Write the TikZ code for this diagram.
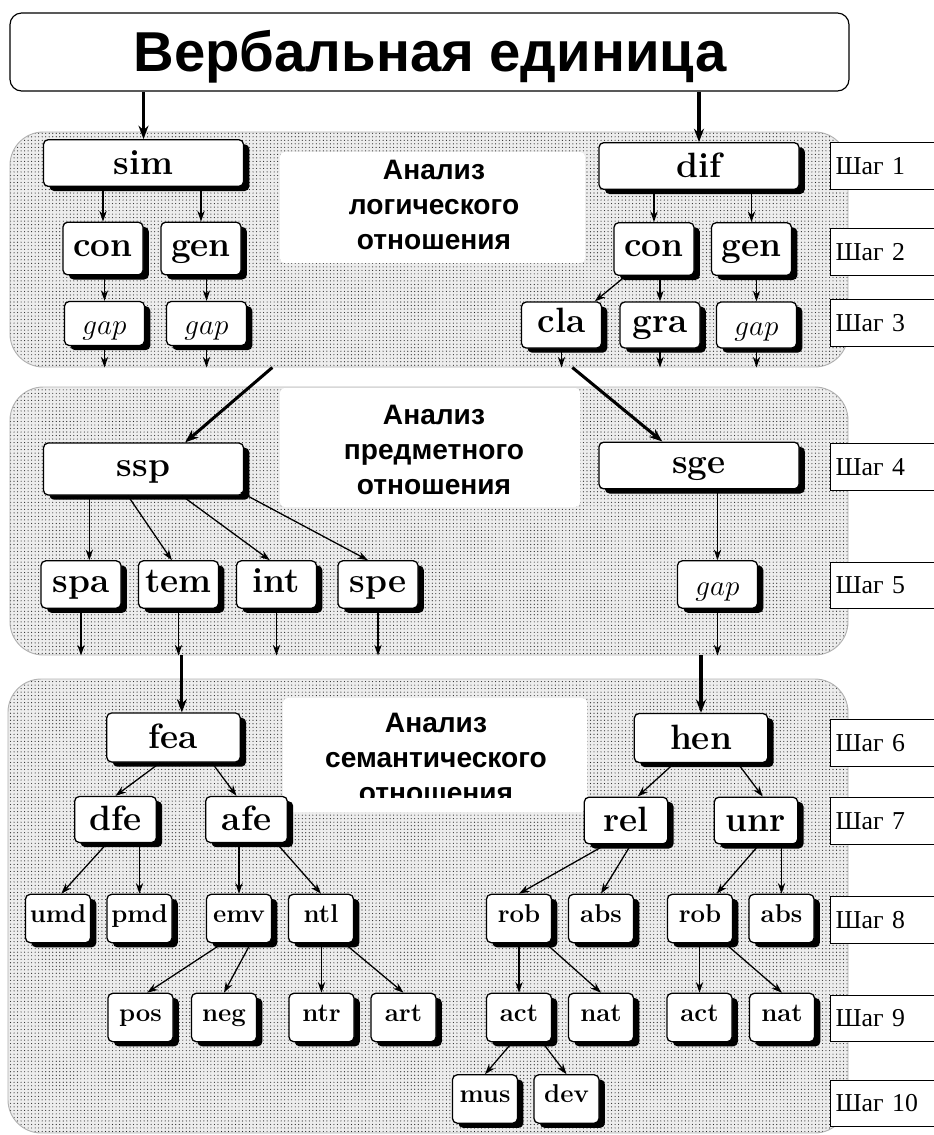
\documentclass[tikz,border=0pt]{standalone}
\usepackage{fontspec}
\newfontfamily\headfont{Liberation Sans}
\newfontfamily\stepfont{Liberation Serif}
\usepackage{tikz}
\usetikzlibrary{arrows.meta,shadows,patterns,positioning,calc}

\tikzset{
  panel/.style={draw=gray!60, line width=0.8pt, rounded corners=1cm, preaction={fill=gray!14},
    pattern=dots, pattern color=black!85, inner sep=0pt},
  blank/.style={fill=white, rounded corners=4pt, inner sep=0pt},
  box/.style={draw, line width=1.1pt, rounded corners=4pt, fill=white, inner sep=0pt,
    text height=13pt, text depth=0pt,
    drop shadow={shadow xshift=5pt, shadow yshift=-4pt, opacity=1, fill=black},
    font=\bfseries\fontsize{30}{32}\selectfont},
  low/.style={text height=19pt},
  wide/.style={box, minimum width=6cm, minimum height=1.4cm},
  mid/.style={box, low, minimum width=4cm, minimum height=1.47cm},
  unit/.style={box, minimum width=2.4cm, minimum height=1.45cm},
  small/.style={box, minimum width=1.95cm, minimum height=1.45cm, text height=6pt,
    font=\bfseries\fontsize{22}{24}\selectfont},
  italic/.style={font=\fontsize{30}{32}\selectfont, text height=18pt, text depth=0pt},
  headline/.style={align=center, font=\headfont\bfseries\fontsize{24}{30}\selectfont},
  steplab/.style={draw, line width=1pt, fill=white, anchor=west, minimum width=4cm, minimum height=1.4cm,
    text width=3.7cm, align=left, inner xsep=3pt, font=\stepfont\fontsize{22}{24}\selectfont},
  arr/.style={-{Stealth[length=3.2mm,width=2.2mm]}, line width=1.1pt},
  link/.style={-{Stealth[length=4mm,width=3mm]}, line width=2.6pt}
}

\begin{document}
\begin{tikzpicture}[x=0.03cm, y=-0.03cm]
    \useasboundingbox (0,0) rectangle (934,1135);

    % Title
    \node[draw, line width=1pt, rounded corners=10pt, minimum width=25.17cm, minimum height=2.34cm] (title) at (429.5,52) {};
    \node[font=\headfont\bfseries\fontsize{48}{50}\selectfont] (name) at (430,57) {Вербальная единица};

    % Panels
    \node[panel, minimum width=25.14cm, minimum height=7.05cm] (lay1) at (429,249.5) {};
    \node[panel, minimum width=25.14cm, minimum height=8.04cm] (lay2) at (429,521) {};
    \node[panel, minimum width=25.2cm, minimum height=13.62cm] (lay3) at (428,906) {};

    \node[blank, minimum width=9.15cm, minimum height=3.33cm] (void1) at (432.5,207.5) {};
    \node[blank, minimum width=9cm, minimum height=3.57cm] (void2) at (430,447.5) {};
    \node[blank, minimum width=9.12cm, minimum height=3.42cm] (void3) at (435,755) {};

    \node[headline] (head1) at (434,205) {Анализ\\логического\\отношения};
    \node[headline] (head2) at (434,450) {Анализ\\предметного\\отношения};
    \begin{scope}
      \clip (283,698) rectangle (587,797);
      \node[headline] (head3) at (436,758) {Анализ\\семантического\\отношения};
    \end{scope}

    % Step labels
    \node[steplab] (st1) at (830,166) {Шаг 1};
    \node[steplab] (st2) at (830,252) {Шаг 2};
    \node[steplab] (st3) at (830,323) {Шаг 3};
    \node[steplab] (st4) at (830,467) {Шаг 4};
    \node[steplab] (st5) at (830,585.5) {Шаг 5};
    \node[steplab] (st6) at (830,743) {Шаг 6};
    \node[steplab] (st7) at (830,821) {Шаг 7};
    \node[steplab] (st8) at (830,920) {Шаг 8};
    \node[steplab] (st9) at (830,1018.5) {Шаг 9};
    \node[steplab] (st10) at (830,1103.5) {Шаг 10};

    % Logical relation
    \node[wide, low] (sim) at (143.5,163) {sim};
    \node[wide, low] (dif) at (699,166) {dif};
    \node[unit, minimum height=1.58cm] (conA) at (103,248.5) {con};
    \node[unit, minimum height=1.58cm] (genA) at (201,248.5) {gen};
    \node[unit, minimum height=1.58cm] (conB) at (654,249) {con};
    \node[unit, minimum height=1.58cm] (genB) at (751.5,249) {gen};
    \node[unit, italic, minimum height=1.32cm] (gapA) at (104.5,323.5) {$gap$};
    \node[unit, italic, minimum height=1.32cm] (gapB) at (206.5,323.5) {$gap$};
    \node[unit, minimum height=1.38cm] (cla) at (561.5,325) {cla};
    \node[unit, minimum height=1.38cm] (gra) at (660,325) {gra};
    \node[unit, italic, minimum height=1.38cm] (gapC) at (756.5,325) {$gap$};

    \draw[link] (sim |- title.south) -- (sim);
    \draw[link] (dif |- title.south) -- (dif);
    \draw[arr] (conA |- sim.south) -- (conA);
    \draw[arr] (genA |- sim.south) -- (genA);
    \draw[arr] (conB |- dif.south) -- (conB);
    \draw[arr] (genB |- dif.south) -- (genB);
    \draw[arr] (gapA |- conA.south) -- (gapA);
    \draw[arr] (gapB |- genA.south) -- (gapB);
    \draw[arr] ([xshift=-.85cm]conB.south) -- ([xshift=1cm]cla.north);
    \draw[arr] (gra |- conB.south) -- (gra);
    \draw[arr] (gapC |- genB.south) -- (gapC);
    \draw[arr] (gapA) -- (gapA |- lay1.south);
    \draw[arr] (gapB) -- (gapB |- lay1.south);
    \draw[arr] (cla) -- (cla |- lay1.south);
    \draw[arr] (gra) -- (gra |- lay1.south);
    \draw[arr] (gapC) -- (gapC |- lay1.south);

    % Object relation
    \node[wide, minimum height=1.56cm] (ssp) at (143.5,469) {ssp};
    \node[wide] (sge) at (699,465.5) {sge};
    \node[unit, minimum height=1.42cm] (spa) at (81,584.5) {spa};
    \node[unit, minimum height=1.42cm] (tem) at (178.5,584.5) {tem};
    \node[unit, minimum height=1.42cm] (int) at (276.5,584.5) {int};
    \node[unit, minimum height=1.42cm] (spe) at (378,584.5) {spe};
    \node[unit, italic, minimum height=1.42cm] (gapD) at (717.5,584.5) {$gap$};

    \coordinate (spaIn) at ([xshift=.25cm]spa.north);
    \draw[link] ([xshift=-4.7cm]lay1.south) -- ([xshift=1.25cm]ssp.north);
    \draw[link] ([xshift=4.3cm]lay1.south) -- ([xshift=-1.1cm]sge.north);
    \draw[arr] (spaIn |- ssp.south) -- (spaIn);
    \draw[arr] ([xshift=-.47cm]ssp.south) -- ([xshift=-.2cm]tem.north);
    \draw[arr] ([xshift=1.15cm]ssp.south) -- ([xshift=-.2cm]int.north);
    \draw[arr] ([shift={(-.1cm,.1cm)}]ssp.south east) -- ([xshift=-.3cm]spe.north);
    \draw[arr] (gapD |- sge.south) -- (gapD);
    \draw[arr] (spa) -- (spa |- lay2.south);
    \draw[arr] (tem) -- (tem |- lay2.south);
    \draw[arr] (int) -- (int |- lay2.south);
    \draw[arr] (spe) -- (spe |- lay2.south);
    \draw[arr] (gapD) -- (gapD |- lay2.south);

    % Semantic relation
    \node[mid] (fea) at (173.5,737.5) {fea};
    \node[mid] (hen) at (701,738) {hen};
    \node[unit, low, minimum width=2.45cm, minimum height=1.38cm] (dfe) at (115.5,819.5) {dfe};
    \node[unit, low, minimum width=2.45cm, minimum height=1.38cm] (afe) at (246.5,819.5) {afe};
    \node[unit, low, minimum width=2.5cm, minimum height=1.4cm] (rel) at (626,820.5) {rel};
    \node[unit, low, minimum width=2.5cm, minimum height=1.4cm] (unr) at (756,820.5) {unr};

    \node[small] (umd) at (58,918.5) {umd};
    \node[small] (pmd) at (139.5,918.5) {pmd};
    \node[small] (emv) at (239,918.5) {emv};
    \node[small] (ntl) at (321,918.5) {ntl};
    \node[small] (robA) at (519,918.5) {rob};
    \node[small] (absA) at (601,918.5) {abs};
    \node[small] (robB) at (700,918.5) {rob};
    \node[small] (absB) at (781.5,918.5) {abs};

    \node[small] (pos) at (140.5,1017.5) {pos};
    \node[small] (neg) at (224,1017.5) {neg};
    \node[small] (ntr) at (321.5,1017.5) {ntr};
    \node[small] (art) at (403.5,1017.5) {art};
    \node[small] (actA) at (519,1017.5) {act};
    \node[small] (natA) at (601,1017.5) {nat};
    \node[small] (actB) at (699.5,1017.5) {act};
    \node[small] (natB) at (782,1017.5) {nat};

    \node[small] (mus) at (485,1099) {mus};
    \node[small] (dev) at (566.5,1099) {dev};

    \coordinate (feaIn) at ([xshift=.25cm]fea.north);
    \draw[link] (feaIn |- lay2.south) -- (feaIn);
    \draw[link] (hen |- lay2.south) -- (hen);
    \draw[arr] ([xshift=-.4cm]fea.south) -- (dfe.north);
    \draw[arr] ([xshift=1.15cm]fea.south) -- ([xshift=-.3cm]afe.north);
    \draw[arr] ([xshift=-.25cm]dfe.south) -- ([xshift=.1cm]umd.north);
    \draw[arr] (pmd |- dfe.south) -- (pmd);
    \draw[arr] (emv |- afe.south) -- (emv);
    \draw[arr] ([xshift=.9cm]afe.south) -- (ntl.north);
    \draw[arr] ([xshift=-.5cm]emv.south) -- ([xshift=.2cm]pos.north);
    \draw[arr] ([xshift=.35cm]emv.south) -- (neg.north);
    \draw[arr] (ntr |- ntl.south) -- (ntr);
    \draw[arr] ([xshift=.7cm]ntl.south) -- (art.north);
    \draw[arr] ([xshift=-.8cm]hen.south) -- ([xshift=.35cm]rel.north);
    \draw[arr] ([xshift=1.1cm]hen.south) -- ([xshift=.2cm]unr.north);
    \draw[arr] ([xshift=-.6cm]rel.south) -- (robA.north);
    \draw[arr] ([xshift=.15cm]rel.south) -- (absA.north);
    \draw[arr] ([xshift=.1cm]unr.south) -- ([xshift=.5cm]robB.north);
    \draw[arr] (absB |- unr.south) -- (absB);
    \draw[arr] (actA |- robA.south) -- (actA);
    \draw[arr] ([xshift=.8cm]robA.south) -- (natA.north);
    \draw[arr] (actB |- robB.south) -- (actB);
    \draw[arr] ([xshift=.75cm]robB.south) -- (natB.north);
    \draw[arr] ([xshift=-.2cm]actA.south) -- (mus.north);
    \draw[arr] ([xshift=.7cm]actA.south) -- (dev.north);
\end{tikzpicture}
\end{document}
